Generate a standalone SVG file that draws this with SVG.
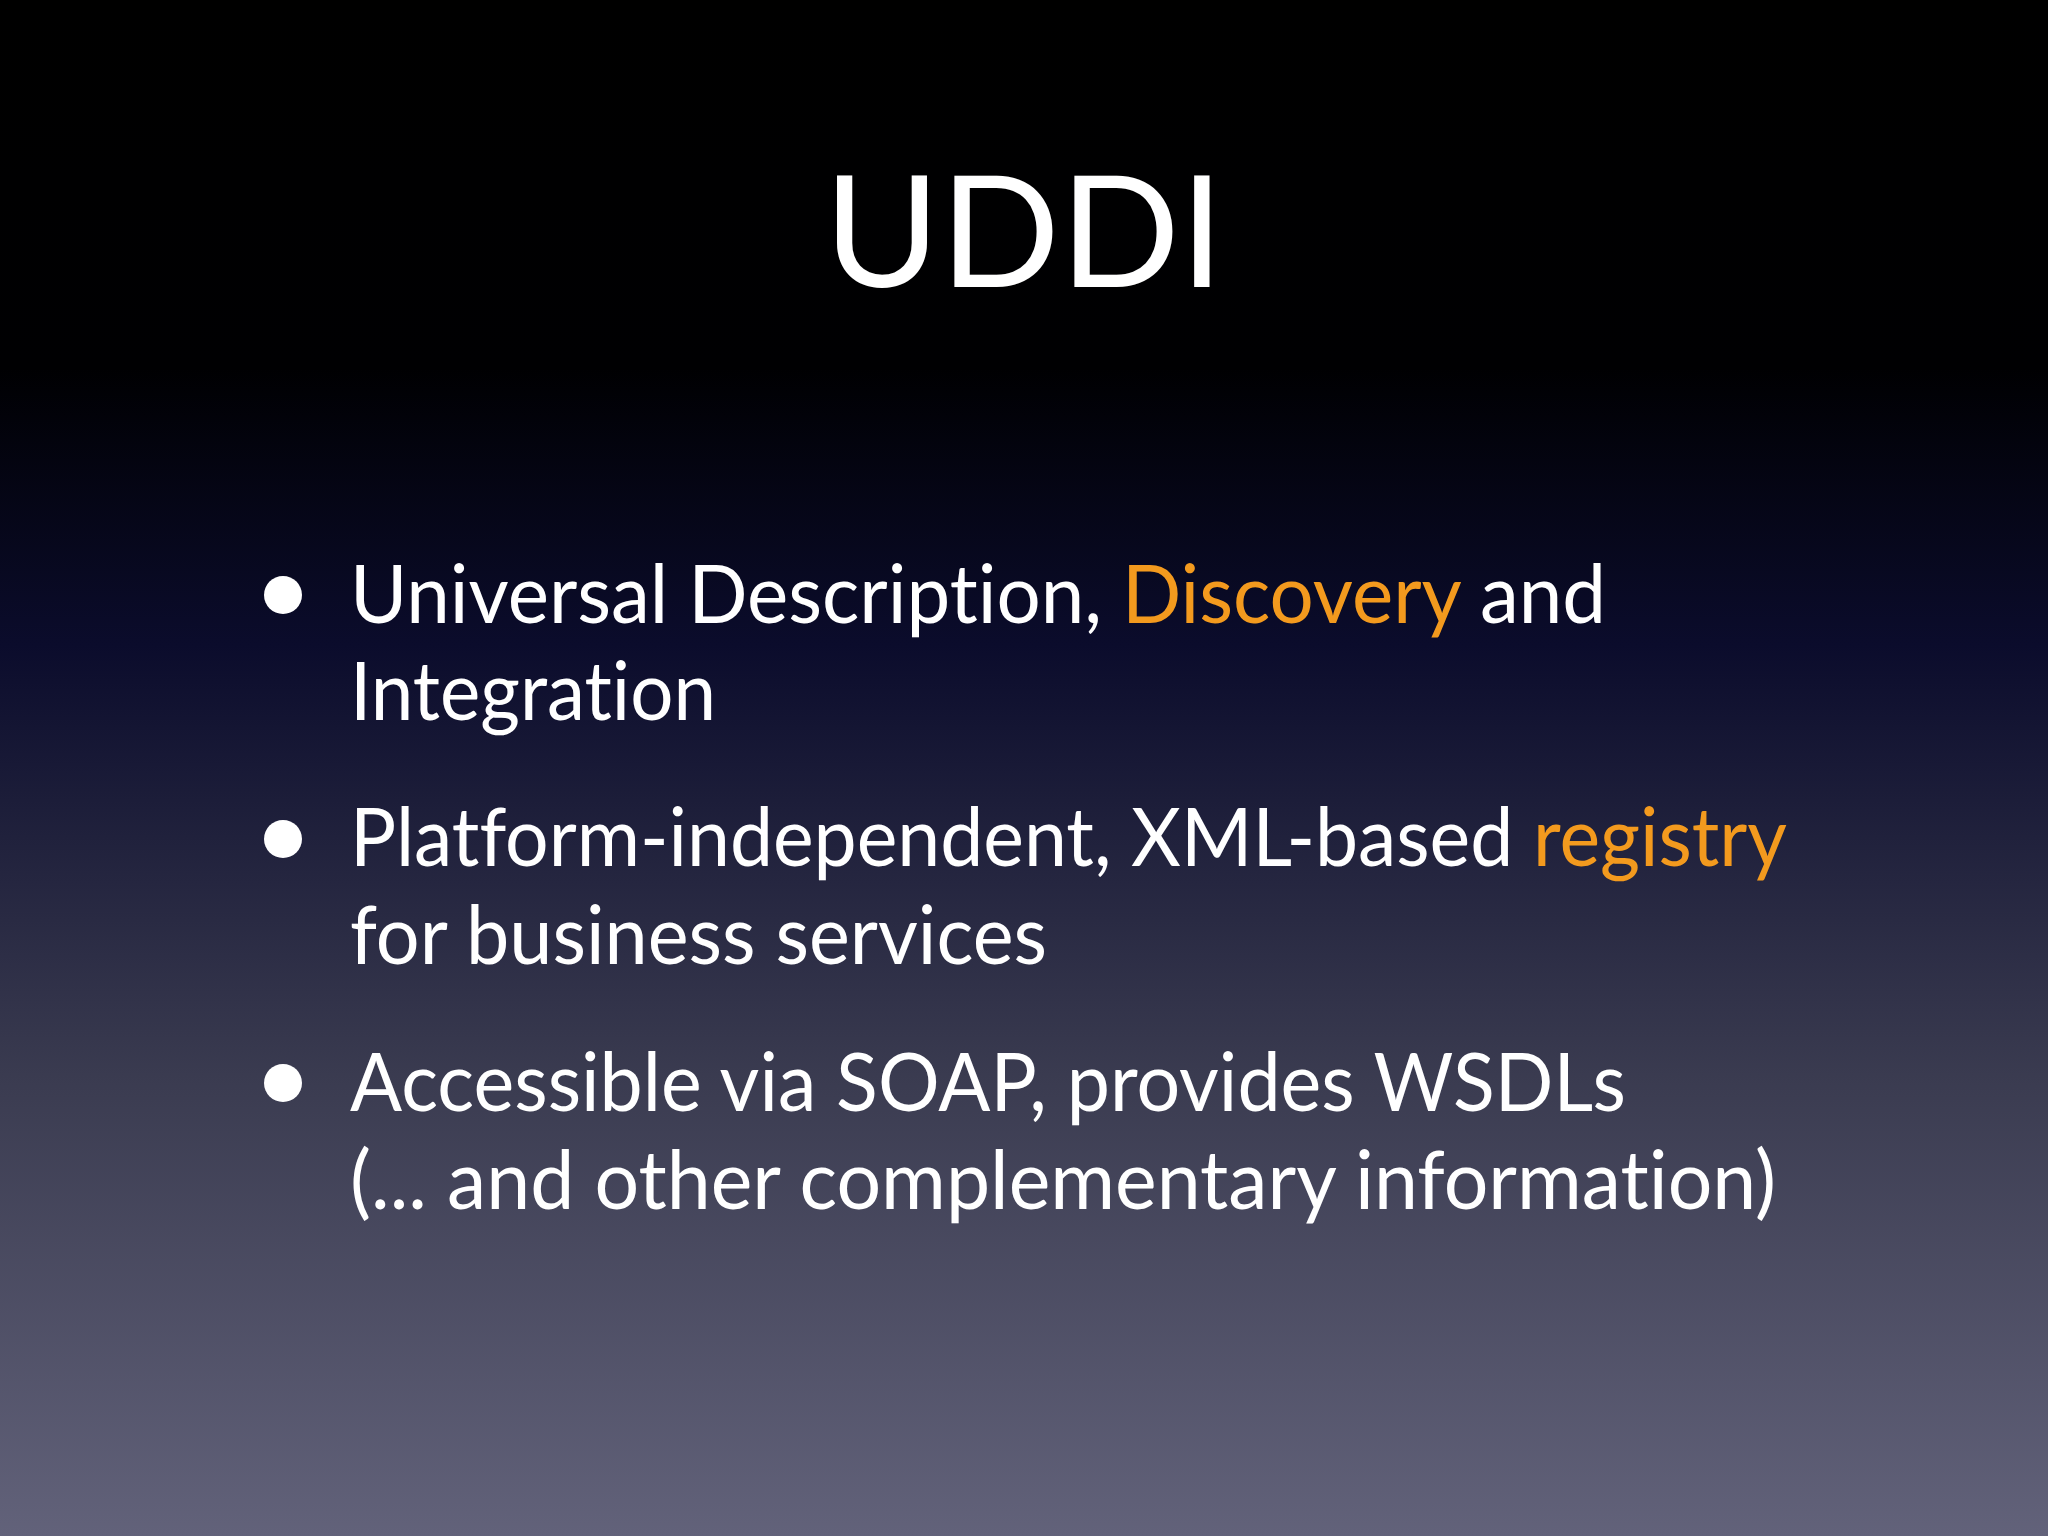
<svg xmlns="http://www.w3.org/2000/svg" width="2048" height="1536" viewBox="0 0 2048 1536">
<defs>
<linearGradient id="bg" x1="0" y1="0" x2="0" y2="1">
<stop offset="0" stop-color="#000000"/>
<stop offset="0.24" stop-color="#000002"/>
<stop offset="0.42" stop-color="#0b0c2c"/>
<stop offset="0.7" stop-color="#3a3b50"/>
<stop offset="1" stop-color="#62627a"/>
</linearGradient>
<style>
.t{font-family:Lato,"Open Sans",sans-serif;fill:#ffffff;font-variant-ligatures:none;font-feature-settings:"liga" 0}
.b{font-size:82px}
.o{fill:#f39a1e}
</style>
</defs>
<rect width="2048" height="1536" fill="url(#bg)"/>
<text class="t" x="1024" y="287" font-size="156" text-anchor="middle" textLength="400" lengthAdjust="spacingAndGlyphs">UDDI</text>
<g fill="#ffffff">
<circle cx="283" cy="595" r="19"/>
<circle cx="283" cy="839" r="19"/>
<circle cx="283" cy="1083" r="19"/>
</g>
<g id="bullet1">
<text class="t b" x="350" y="623" textLength="1256" lengthAdjust="spacingAndGlyphs">Universal Description, <tspan class="o">Discovery</tspan> and</text>
<text class="t b" x="350" y="720" textLength="366" lengthAdjust="spacingAndGlyphs">Integration</text>
</g>
<g id="bullet2">
<text class="t b" x="350" y="866" textLength="1437" lengthAdjust="spacingAndGlyphs">Platform-independent, XML-based <tspan class="o">registry</tspan></text>
<text class="t b" x="350" y="964" textLength="697" lengthAdjust="spacingAndGlyphs">for business services</text>
</g>
<g id="bullet3">
<text class="t b" x="350" y="1111" textLength="1276" lengthAdjust="spacingAndGlyphs">Accessible via SOAP, provides WSDLs</text>
<text class="t b" x="350" y="1209" textLength="1426" lengthAdjust="spacingAndGlyphs">(... and other complementary information)</text>
</g>
</svg>
